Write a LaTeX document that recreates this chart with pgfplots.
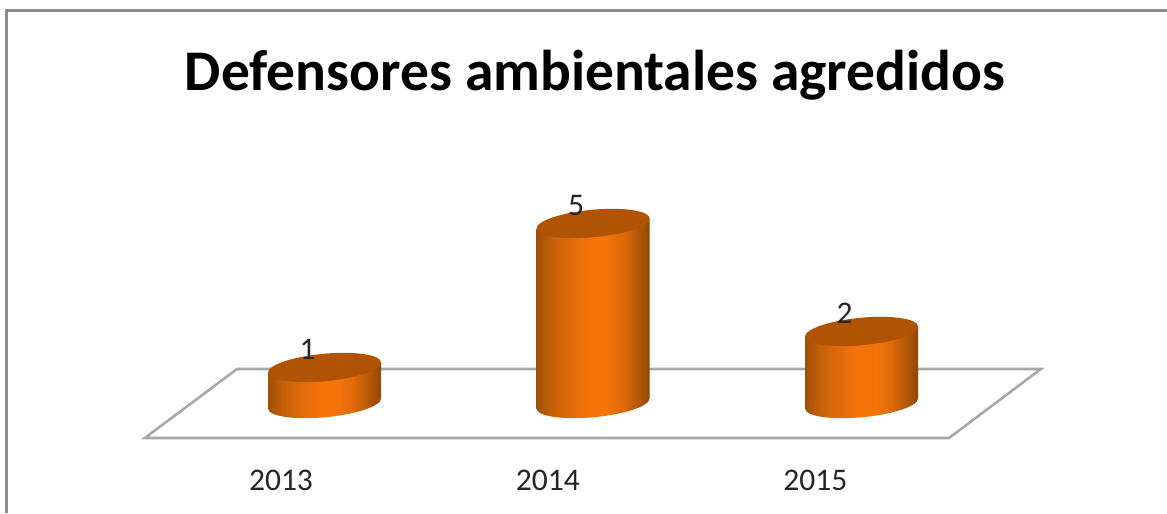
\documentclass[border=0pt]{standalone}
\usepackage{pgfplots}
\usepackage{pgfplotstable}
\usepackage{fontspec}
\setmainfont{Carlito}
\pgfplotsset{compat=1.18}
\definecolor{cyltop}{HTML}{B05404}
\definecolor{floorline}{HTML}{A8A8A8}
\definecolor{frameline}{HTML}{8C8C8C}
\definecolor{s0}{HTML}{A04F08}
\definecolor{s1}{HTML}{C25F08}
\definecolor{s2}{HTML}{E56B0A}
\definecolor{s3}{HTML}{F5740A}
\definecolor{s4}{HTML}{DE6A0A}
\definecolor{s5}{HTML}{B35706}
\definecolor{s6}{HTML}{8F4606}
\pgfdeclarehorizontalshading{cylshade}{100bp}{
 color(0bp)=(s0); color(25bp)=(s0); color(31bp)=(s1); color(41bp)=(s2); color(48.5bp)=(s3); color(56bp)=(s3);
 color(63bp)=(s4); color(70bp)=(s5); color(75bp)=(s6); color(100bp)=(s6)}
\pgfdeclareplotmark{cyltopm}{%
 \pgfpathellipse{\pgfpointorigin}{\pgfpoint{56.5pt}{5pt}}{\pgfpoint{0pt}{13.8pt}}\pgfusepathqfill}
\pgfdeclareplotmark{cylbotm}{%
 \pgfpathellipse{\pgfpointorigin}{\pgfpoint{56.5pt}{5pt}}{\pgfpoint{0pt}{13.8pt}}\pgfshadepath{cylshade}{0}\pgfusepath{discard}}
\pgfplotstableread{
x v
0 1
1 5
2 2
}\cyldata
\begin{document}
\begin{tikzpicture}
\begin{axis}[
  scale only axis, width=1167pt, height=513pt,
  xmin=-1.2086, xmax=3.1378, ymin=-3.0417, ymax=11.2083,
  axis line style={draw=none}, tick style={draw=none},
  ytick=\empty,
  xtick={-0.162,0.832,1.828}, xticklabels={2013,2014,2015},
  xticklabel style={yshift=46.5pt, font=\fontsize{31.5}{33}\selectfont, text=black!85},
  title={\fontsize{57.5}{62}\selectfont\bfseries Defensores ambientales agredidos},
  title style={at={(rel axis cs:0.510,0.842)}, anchor=center, yshift=0pt},
  clip=true,
]
% frame
\addplot[frameline, line width=3pt] coordinates {(-1.186,-3.05) (-1.186,10.91) (3.14,10.91)};
% floor
\addplot[floorline, line width=2.6pt] coordinates {(-0.326,0.958) (2.668,0.958) (2.326,-0.958) (-0.669,-0.958) (-0.326,0.958)};
% bottom ellipses
\addplot[only marks, mark=cylbotm] table[x=x,y expr=0] {\cyldata};
% bodies
\addplot[draw=none, shading=cylshade] coordinates {(-0.2104,0.861) (0.2104,1.139) (0.2104,0.139) (-0.2104,-0.139)} -- cycle;
\addplot[draw=none, shading=cylshade] coordinates {(0.7896,4.861) (1.2104,5.139) (1.2104,0.139) (0.7896,-0.139)} -- cycle;
\addplot[draw=none, shading=cylshade] coordinates {(1.7896,1.861) (2.2104,2.139) (2.2104,0.139) (1.7896,-0.139)} -- cycle;
% tops with labels
\addplot[only marks, mark=cyltopm, mark options={fill=cyltop, draw=none}, color=cyltop,
  nodes near coords, point meta=explicit symbolic,
  nodes near coords style={anchor=center, xshift=-17pt, yshift=18pt, text=black!85, font=\fontsize{31.5}{33}\selectfont}]
  table[x=x,y=v,meta=v] {\cyldata};
\end{axis}
\end{tikzpicture}
\end{document}
